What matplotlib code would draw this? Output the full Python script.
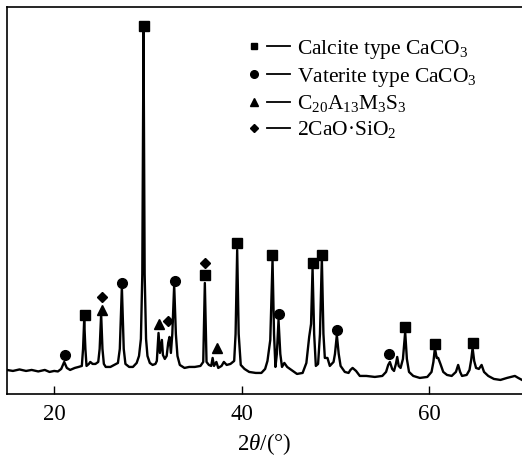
import matplotlib
matplotlib.use("Agg")
import matplotlib.pyplot as plt
from matplotlib.legend_handler import HandlerBase
from matplotlib.lines import Line2D

plt.rcParams["font.family"] = ["Liberation Serif", "DejaVu Serif"]
plt.rcParams["mathtext.fontset"] = "custom"
plt.rcParams["mathtext.rm"] = "Liberation Serif"
plt.rcParams["mathtext.it"] = "Liberation Serif:italic"

# XRD trace: 2theta (deg) and intensity (a.u.)
two_theta = [
    14.95, 15.6, 16.3, 17.0, 17.6, 18.3, 19.0, 19.5, 20.0, 20.4, 20.75, 21.07, 21.35,
    21.7, 22.2, 22.6, 22.95, 23.08, 23.2, 23.33, 23.45, 23.7, 23.85, 24.1, 24.4, 24.7,
    24.85, 25.01, 25.15, 25.3, 25.5, 26.0, 26.4, 26.8, 27.0, 27.22, 27.42, 27.6, 28.0,
    28.4, 28.8, 29.05, 29.25, 29.4, 29.53, 29.65, 29.8, 29.95, 30.2, 30.5, 30.8, 30.95,
    31.13, 31.28, 31.49, 31.6, 31.8, 32.0, 32.16, 32.3, 32.45, 32.6, 32.8, 32.98, 33.15,
    33.4, 33.9, 34.4, 35.0, 35.6, 35.9, 36.07, 36.25, 36.5, 36.75, 36.9, 37.05, 37.3,
    37.5, 37.85, 38.1, 38.4, 38.8, 39.2, 39.35, 39.52, 39.68, 39.9, 40.3, 40.8, 41.5,
    42.1, 42.5, 42.75, 43.05, 43.29, 43.45, 43.6, 43.75, 43.93, 44.12, 44.3, 44.55,
    44.85, 45.3, 45.9, 46.5, 46.9, 47.2, 47.4, 47.56, 47.73, 47.91, 48.15, 48.35, 48.55,
    48.72, 48.87, 49.15, 49.4, 49.8, 49.95, 50.15, 50.35, 50.55, 51.0, 51.4, 51.6, 51.83,
    52.2, 52.6, 53.3, 54.2, 55.0, 55.4, 55.63, 55.81, 56.05, 56.25, 56.45, 56.59, 56.75,
    56.95, 57.2, 57.44, 57.62, 57.85, 58.3, 59.0, 59.8, 60.25, 60.45, 60.61, 60.8, 60.96,
    61.2, 61.5, 61.9, 62.4, 62.85, 63.09, 63.3, 63.5, 64.0, 64.3, 64.48, 64.63, 64.8,
    65.0, 65.3, 65.59, 65.85, 66.3, 66.9, 67.6, 68.3, 69.14, 69.5, 69.9,
]
intensity = [
    24, 23, 24.5, 23, 24, 22.5, 24, 22, 23, 22.5, 25, 32, 26,
    24, 26, 27, 28, 45, 74, 45, 28, 30, 32, 30, 30, 32,
    45, 80, 45, 30, 27, 27, 29, 31, 45, 107, 45, 30, 27,
    27, 31, 38, 55, 120, 362, 120, 55, 38, 31, 29, 30, 33,
    61, 41, 54, 39, 35, 38, 51, 57, 41, 60, 109, 60, 38,
    29, 26, 27, 27, 28, 32, 111, 32, 29, 28, 36, 28, 32,
    26, 28, 32, 29, 30, 33, 60, 144, 60, 29, 25, 22, 21,
    21, 25, 33, 54, 134, 60, 27, 40, 74, 40, 27, 31,
    27, 24, 20, 21, 31, 57, 70, 126, 60, 28, 30, 60, 136,
    60, 36, 36, 28, 32, 40, 59, 40, 28, 22, 21, 24, 26,
    23, 18, 18, 17, 18, 22, 29, 32, 25, 23, 30, 37, 28,
    26, 35, 62, 35, 22, 18, 16, 17, 22, 32, 46, 36, 36,
    30, 22, 19, 18, 22, 29, 22, 18, 19, 24, 34, 46, 33,
    26, 25, 29, 22, 18, 15, 14, 16, 18, 16, 14,
]

# phase markers placed above the peaks
calcite_x = [23.24, 29.53, 36.1, 39.52, 43.25, 47.62, 48.58, 57.44, 60.64, 64.7]
calcite_y = [79, 368, 119, 150.7, 138.7, 130.7, 139.3, 66.7, 49.7, 50.7]
vaterite_x = [21.14, 27.22, 32.84, 43.97, 50.19, 55.74]
vaterite_y = [39, 111.3, 113, 80, 64, 39.7]
c20_x = [25.05, 31.2, 37.32]
c20_y = [84, 70, 46.3]
c2s_x = [25.05, 32.17, 36.1]
c2s_y = [97.3, 73.3, 130.7]

labels = [
    "Calcite type CaCO$_3$",
    "Vaterite type CaCO$_3$",
    "C$_{20}$A$_{13}$M$_3$S$_3$",
    "2CaO·SiO$_2$",
]


class MarkerDash(HandlerBase):
    # marker on the left, short dash on the right: "■ —"
    def create_artists(self, legend, orig_handle, xdescent, ydescent,
                       width, height, fontsize, trans):
        y = height / 2 - ydescent
        x0 = -xdescent
        mk = Line2D([x0 + 0.11 * width], [y], marker=orig_handle.get_marker(),
                    markersize=orig_handle.get_markersize(), color="black",
                    linestyle="none", transform=trans)
        ln = Line2D([x0 + 0.42 * width, x0 + width], [y, y], color="black",
                    lw=1.3, transform=trans)
        return [mk, ln]


fig = plt.figure(figsize=(5.22, 4.57), dpi=100)
ax = fig.add_axes([7.3 / 522, 0.138, 1 - 7.3 / 522, 0.846])

ax.plot(two_theta, intensity, color="black", lw=1.7)
ax.plot(calcite_x, calcite_y, "s", color="black", ms=6.5)
ax.plot(vaterite_x, vaterite_y, "o", color="black", ms=7)
ax.plot(c20_x, c20_y, "^", color="black", ms=7)
ax.plot(c2s_x, c2s_y, "D", color="black", ms=5)

ax.set_xlim(15, 69.9)
ax.set_ylim(0, 386.7)
ax.set_xticks([20, 40, 60])
ax.set_yticks([])
ax.tick_params(axis="x", direction="in", length=5.5, width=1, labelsize=16.5, pad=7)
ax.spines["right"].set_visible(False)
for s in ["left", "top", "bottom"]:
    ax.spines[s].set_linewidth(1.2)
ax.set_xlabel(r"2$\theta$/(°)", fontsize=16.5, labelpad=4.5)

handles = [
    Line2D([], [], marker="s", markersize=5),
    Line2D([], [], marker="o", markersize=5.5),
    Line2D([], [], marker="^", markersize=5.5),
    Line2D([], [], marker="D", markersize=4),
]
ax.legend(handles, labels, handler_map={Line2D: MarkerDash()},
          loc="upper left", bbox_to_anchor=(250 / 522, 1 - 38 / 457),
          bbox_transform=fig.transFigure, frameon=False, borderpad=0,
          borderaxespad=0, handlelength=1.85, handletextpad=0.35,
          labelspacing=0.22, fontsize=15.5)

fig.savefig("out.png", dpi=100)
